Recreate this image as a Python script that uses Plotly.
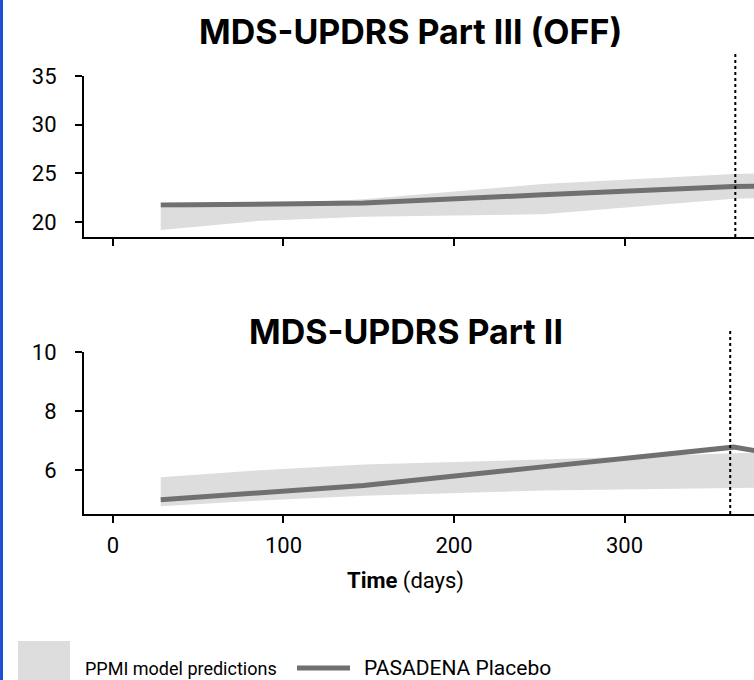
import plotly.graph_objects as go

# ---------------- data ----------------
days = [28, 84, 147, 252, 364, 420]

# MDS-UPDRS Part III (OFF)
p3_placebo = [21.75, 21.8, 21.95, 22.8, 23.65, 23.8]
p3_band_lo = [19.2, 20.1, 20.55, 20.8, 22.4, 22.6]
p3_band_hi = [21.45, 21.8, 22.35, 23.9, 24.95, 25.1]
p3_ref_day = 365

# MDS-UPDRS Part II
p2_placebo = [4.98, 5.2, 5.47, 6.1, 6.77, 6.25]
p2_band_lo = [4.76, 4.95, 5.12, 5.3, 5.38, 5.42]
p2_band_hi = [5.75, 5.98, 6.18, 6.35, 6.56, 6.65]
p2_ref_day = 362

x_ticks = [0, 100, 200, 300]
p3_yticks = [20, 25, 30, 35]
p2_yticks = [6, 8, 10]

titles = ["MDS-UPDRS Part III (OFF)", "MDS-UPDRS Part II"]
legend_labels = ["PPMI model predictions", "PASADENA Placebo"]

# ---------------- style ----------------
W, H = 754, 680
ML, MR, MT, MB = 84, 0, 76, 166
PW, PH = W - ML - MR, H - MT - MB
BAND = "#dddddd"
LINE = "#707070"
FONT = "Roboto"
TFONT = "Inter"


def px_x(px):
    return (px - ML) / PW


def px_y(py):
    return (H - MB - py) / PH


fig = go.Figure()

panels = [
    ("x", "y", p3_band_lo, p3_band_hi, p3_placebo),
    ("x2", "y2", p2_band_lo, p2_band_hi, p2_placebo),
]
for xa, ya, lo, hi, mid in panels:
    fig.add_trace(go.Scatter(
        x=days + days[::-1], y=hi + lo[::-1], fill="toself",
        fillcolor=BAND, line=dict(width=0), mode="lines",
        xaxis=xa, yaxis=ya, showlegend=False, hoverinfo="skip"))
    fig.add_trace(go.Scatter(
        x=days, y=mid, mode="lines", line=dict(color=LINE, width=5),
        xaxis=xa, yaxis=ya, showlegend=False))

axis_common = dict(
    showline=True, linecolor="black", linewidth=2, ticks="outside",
    ticklen=7, tickwidth=2, tickcolor="black", showgrid=False,
    zeroline=False, tickfont=dict(family=FONT, size=22, color="black"))

top_dom = [px_y(237), px_y(76)]
bot_dom = [px_y(514), px_y(352)]
xr = [-17, (W - 113) / 1.705]

fig.update_layout(
    width=W, height=H,
    margin=dict(l=ML, r=MR, t=MT, b=MB),
    plot_bgcolor="white", paper_bgcolor="white",
    xaxis=dict(domain=[0, 1], anchor="y", range=xr, tickvals=x_ticks,
               showticklabels=False, **axis_common),
    yaxis=dict(domain=top_dom, anchor="x", range=[18.47, 35],
               tickvals=p3_yticks, ticklabelstandoff=14, **axis_common),
    xaxis2=dict(domain=[0, 1], anchor="y2", range=xr, tickvals=x_ticks,
                ticklabelstandoff=4, **axis_common),
    yaxis2=dict(domain=bot_dom, anchor="x2", range=[4.5, 10],
                tickvals=p2_yticks, ticklabelstandoff=14, **axis_common),
    showlegend=False,
)

# reference (dotted) vertical lines
fig.add_shape(type="line", xref="x", yref="y domain", x0=p3_ref_day,
              x1=p3_ref_day, y0=0, y1=(237 - 52) / (237 - 76),
              line=dict(color="black", width=2, dash="dot"))
fig.add_shape(type="line", xref="x2", yref="y2 domain", x0=p2_ref_day,
              x1=p2_ref_day, y0=0, y1=(514 - 330) / (514 - 352),
              line=dict(color="black", width=2, dash="dot"))


def text(t, x, y, size, family, xanchor="center"):
    fig.add_annotation(text=t, xref="paper", yref="paper", x=px_x(x), y=px_y(y),
                       xanchor=xanchor, yanchor="middle", showarrow=False,
                       font=dict(family=family, size=size, color="black"))


# titles
text("<b>" + titles[0] + "</b>", 410, 31, 34, TFONT)
text("<b>" + titles[1] + "</b>", 406, 331, 34, TFONT)

# x-axis title
text("<b>Time</b> (days)", 405, 581, 22, FONT)

# left blue bar
fig.add_shape(type="rect", xref="paper", yref="paper", x0=px_x(0), x1=px_x(3),
              y0=px_y(H), y1=px_y(0), fillcolor="#1d4ed8", line=dict(width=0),
              layer="above")

# manual legend
fig.add_shape(type="rect", xref="paper", yref="paper", x0=px_x(18), x1=px_x(70),
              y0=px_y(H + 5), y1=px_y(641), fillcolor=BAND, line=dict(width=0))
text(legend_labels[0], 83, 668, 18, FONT, xanchor="left")
fig.add_shape(type="line", xref="paper", yref="paper", x0=px_x(297), x1=px_x(350),
              y0=px_y(668), y1=px_y(668), line=dict(color=LINE, width=5))
text(legend_labels[1], 362, 668, 21, FONT, xanchor="left")

fig.write_html("out.html",
               config={"displayModeBar": False},
               post_script="document.body.style.margin='0';"
                           "document.body.style.overflow='hidden';")
